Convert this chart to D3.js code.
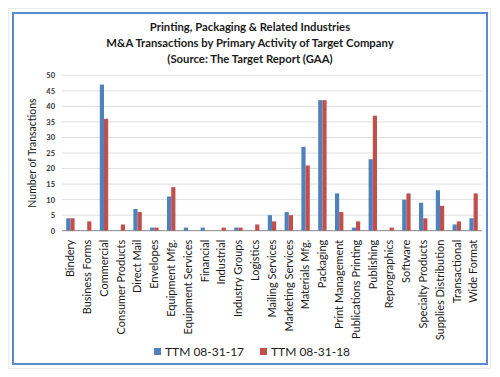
<!DOCTYPE html>
<html><head><meta charset="utf-8">
<script src="https://cdn.jsdelivr.net/npm/d3@7"></script>
<style>body{margin:0;background:#fff}svg{display:block}</style>
</head><body>
<script>
const categories = ["Bindery","Business Forms","Commercial","Consumer Products","Direct Mail","Envelopes","Equipment Mfg.","Equipment Services","Financial","Industrial","Industry Groups","Logistics","Mailing Services","Marketing Services","Materials Mfg.","Packaging","Print Management","Publications Printing","Publishing","Reprographics","Software","Specialty Products","Supplies Distribution","Transactional","Wide Format"];
const ttm17 = [4,0,47,0,7,1,11,1,1,0,1,0,5,6,27,42,12,1,23,0,10,9,13,2,4];
const ttm18 = [4,3,36,2,6,1,14,0,0,1,1,2,3,5,21,42,6,3,37,1,12,4,8,3,12];
const seriesNames = ["TTM 08-31-17","TTM 08-31-18"];
const colors = ["#4F81BD","#C0504D"];
const yTicks = [0,5,10,15,20,25,30,35,40,45,50];
const titleLines = ["Printing, Packaging & Related Industries","M&A Transactions by Primary Activity of Target Company","(Source: The Target Report (GAA)"];

const W=500,H=377;
const svg=d3.select("body").append("svg").attr("width",W).attr("height",H);
const font="Lato, 'Open Sans', sans-serif";
svg.append("rect").attr("x",8.5).attr("y",8.5).attr("width",482).attr("height",360).attr("fill","none").attr("stroke","#ececec");
svg.append("rect").attr("x",13).attr("y",13).attr("width",474).attr("height",351).attr("fill","#fff").attr("stroke","#5a8bd0").attr("stroke-width",2);

titleLines.forEach((t,i)=>svg.append("text").attr("x",250).attr("y",31+i*16).attr("text-anchor","middle")
  .attr("font-family",font).attr("font-weight","bold").attr("font-size",11.3).attr("fill","#1a1a1a").text(t));

const m={l:62,r:482,t:75.3,b:230.7};
const x=d3.scaleBand().domain(categories).range([m.l,m.r]).paddingInner(0.5).paddingOuter(0.25);
const xs=d3.scaleBand().domain([0,1]).range([0,x.bandwidth()]);
const y=d3.scaleLinear().domain([0,50]).range([m.b,m.t]);

const g=svg.append("g");
g.selectAll("line.grid").data(yTicks).join("line").attr("x1",m.l).attr("x2",m.r)
  .attr("y1",d=>y(d)).attr("y2",d=>y(d)).attr("stroke",d=>d===0?"#888":"#dedede").attr("stroke-width",1);

const yAxis=d3.axisLeft(y).tickValues(yTicks).tickSize(0).tickPadding(7);
const ya=svg.append("g").attr("transform",`translate(${m.l},0)`).call(yAxis);
ya.select(".domain").remove();
ya.selectAll("text").attr("font-family",font).attr("font-size",7.5).attr("font-weight","bold").attr("fill","#333");

[ttm17,ttm18].forEach((s,si)=>{
  svg.append("g").selectAll("rect").data(s).join("rect")
   .attr("x",(d,i)=>x(categories[i])+xs(si)).attr("width",xs.bandwidth())
   .attr("y",d=>y(d)).attr("height",d=>y(0)-y(d)).attr("fill",colors[si]);
});

const xAxis=d3.axisBottom(x).tickSize(0).tickPadding(0);
const xa=svg.append("g").attr("transform",`translate(0,${m.b})`).call(xAxis);
xa.select(".domain").remove();
xa.selectAll("text").attr("font-family",font).attr("font-size",11).attr("fill","#1a1a1a")
  .attr("transform","rotate(-90)").attr("text-anchor","end").attr("dy","0.35em").attr("x",-9).attr("y",0);

svg.append("text").attr("transform","translate(36,153) rotate(-90)").attr("text-anchor","middle")
  .attr("font-family",font).attr("font-size",10.5).attr("fill","#1a1a1a").text("Number of Transactions");

const lx=[154,260];
seriesNames.forEach((n,i)=>{
  svg.append("rect").attr("x",lx[i]).attr("y",348).attr("width",7).attr("height",7).attr("fill",colors[i]);
  svg.append("text").attr("x",lx[i]+11).attr("y",356).attr("font-family",font).attr("font-size",12).attr("fill","#1a1a1a").text(n);
});
</script>
</body></html>
